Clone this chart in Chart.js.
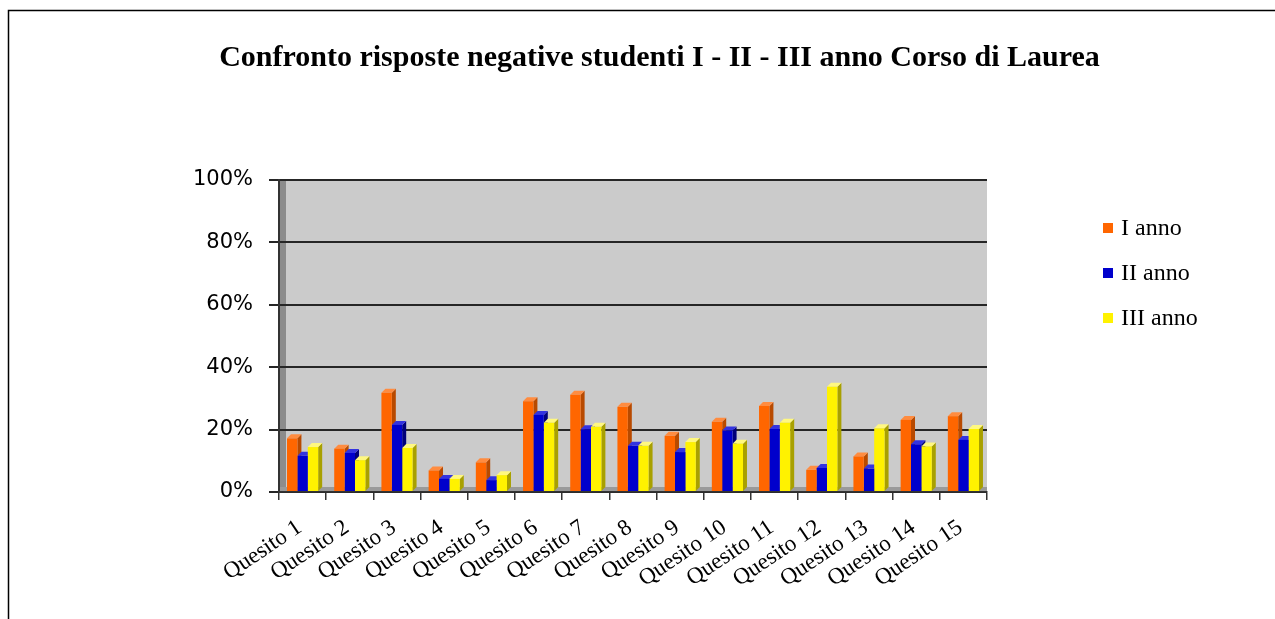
<!DOCTYPE html>
<html>
<head>
<meta charset="utf-8">
<script src="https://cdn.jsdelivr.net/npm/chart.js@4"></script>
<style>
  body { margin: 0; background: #fff; }
  #wrap { width: 1275px; height: 619px; }
</style>
</head>
<body>
<div id="wrap"><canvas id="chart" width="1275" height="619"></canvas></div>
<script>
// categories and values (percent of negative answers)
const categories = ['Quesito 1', 'Quesito 2', 'Quesito 3', 'Quesito 4', 'Quesito 5', 'Quesito 6', 'Quesito 7', 'Quesito 8',
  'Quesito 9', 'Quesito 10', 'Quesito 11', 'Quesito 12', 'Quesito 13', 'Quesito 14', 'Quesito 15'];
const seriesNames = ['I anno', 'II anno', 'III anno'];
const primoAnno = [17.2, 13.9, 31.8, 6.9, 9.5, 29.1, 31.2, 27.3, 18.0, 22.5, 27.6, 7.1, 11.4, 23.1, 24.3];
const secondoAnno = [11.6, 12.5, 21.5, 4.2, 3.8, 24.7, 20.1, 14.8, 12.8, 19.7, 20.2, 7.7, 7.5, 15.3, 16.7];
const terzoAnno = [14.4, 10.2, 14.1, 4.2, 5.4, 22.2, 20.9, 14.8, 16.0, 15.5, 22.2, 33.7, 20.4, 14.6, 20.2];
const yTicks = [0, 20, 40, 60, 80, 100];

const fronts = ['#FF6600', '#0000CC', '#FFF200'];
const sides = ['#B84A00', '#00007A', '#A8A000'];
const tops = ['#FF8C40', '#3333E0', '#FFF880'];

// frame + plot background with small 3D walls
const backdrop = {
  id: 'backdrop',
  beforeDraw(chart) {
    const { ctx, chartArea: a } = chart;
    ctx.save();
    ctx.strokeStyle = '#000';
    ctx.lineWidth = 1.5;
    ctx.beginPath();
    ctx.moveTo(8.5, 619);
    ctx.lineTo(8.5, 10.5);
    ctx.lineTo(1275, 10.5);
    ctx.stroke();
    ctx.fillStyle = '#CBCBCB';
    ctx.fillRect(a.left, a.top, a.right - a.left, a.bottom - a.top);
    ctx.fillStyle = '#8C8C8C';
    ctx.fillRect(a.left, a.top, 7, a.bottom - a.top);
    ctx.fillStyle = '#9A9A9A';
    ctx.fillRect(a.left, a.bottom - 5, a.right - a.left, 5);
    ctx.restore();
  }
};

// side and top faces of the bars, drawn before the fronts
const bar3d = {
  id: 'bar3d',
  beforeDatasetsDraw(chart) {
    const ctx = chart.ctx;
    const d = 4;
    ctx.save();
    chart.data.datasets.forEach((ds, i) => {
      chart.getDatasetMeta(i).data.forEach(bar => {
        const { x, y, base, width } = bar.getProps(['x', 'y', 'base', 'width'], true);
        const l = x - width / 2, r = x + width / 2;
        ctx.fillStyle = sides[i];
        ctx.beginPath();
        ctx.moveTo(r, y); ctx.lineTo(r + d, y - d); ctx.lineTo(r + d, base - d); ctx.lineTo(r, base);
        ctx.closePath(); ctx.fill();
        ctx.fillStyle = tops[i];
        ctx.beginPath();
        ctx.moveTo(l, y); ctx.lineTo(l + d, y - d); ctx.lineTo(r + d, y - d); ctx.lineTo(r, y);
        ctx.closePath(); ctx.fill();
      });
    });
    ctx.restore();
  }
};

// legend on the right
const sideLegend = {
  id: 'sideLegend',
  afterDraw(chart) {
    const ctx = chart.ctx;
    ctx.save();
    ctx.font = '24px "Liberation Serif"';
    ctx.textBaseline = 'middle';
    chart.data.datasets.forEach((ds, i) => {
      const yy = 228 + i * 45;
      ctx.fillStyle = fronts[i];
      ctx.fillRect(1103, yy - 5, 10, 10);
      ctx.fillStyle = '#000';
      ctx.fillText(ds.label, 1121, yy + 1);
    });
    ctx.restore();
  }
};

const ctx = document.getElementById('chart').getContext('2d');
new Chart(ctx, {
  type: 'bar',
  data: {
    labels: categories,
    datasets: [
      { label: seriesNames[0], data: primoAnno, backgroundColor: fronts[0] },
      { label: seriesNames[1], data: secondoAnno, backgroundColor: fronts[1] },
      { label: seriesNames[2], data: terzoAnno, backgroundColor: fronts[2] }
    ]
  },
  options: {
    responsive: false,
    animation: false,
    layout: { padding: { left: 44, right: 0, top: 0, bottom: 0 } },
    datasets: { bar: { barPercentage: 1.0, categoryPercentage: 0.66 } },
    plugins: {
      legend: { display: false },
      tooltip: { enabled: false },
      title: {
        display: true,
        text: 'Confronto risposte negative studenti I - II - III anno Corso di Laurea',
        color: '#000',
        font: { family: '"Liberation Serif"', size: 30, weight: 'bold' },
        padding: { top: 40, bottom: 104 }
      }
    },
    scales: {
      x: {
        grid: { drawOnChartArea: false, color: '#333', tickLength: 8, lineWidth: 1.5 },
        border: { color: '#333', width: 1.5 },
        ticks: {
          color: '#000',
          font: { family: '"Liberation Serif"', size: 23 },
          autoSkip: false,
          minRotation: 34, maxRotation: 34,
          labelOffset: -3,
          padding: 14
        },
        afterFit(scale) { scale.height = 127; }
      },
      y: {
        min: 0, max: 100,
        afterBuildTicks(scale) { scale.ticks = yTicks.map(v => ({ value: v })); },
        grid: { color: '#262626', lineWidth: 2, tickLength: 10 },
        border: { color: '#333', width: 2 },
        ticks: {
          color: '#000',
          font: { family: '"DejaVu Sans"', size: 21 },
          padding: 16,
          callback: v => v + '%'
        },
        afterFit(scale) { scale.width = 235; }
      },
      // empty right-hand space reserved for the legend
      legendSpace: {
        type: 'linear',
        position: 'right',
        display: true,
        grid: { display: false },
        border: { display: false },
        ticks: { display: false },
        afterFit(scale) { scale.width = 288; }
      }
    }
  },
  plugins: [backdrop, bar3d, sideLegend]
});
</script>
</body>
</html>
